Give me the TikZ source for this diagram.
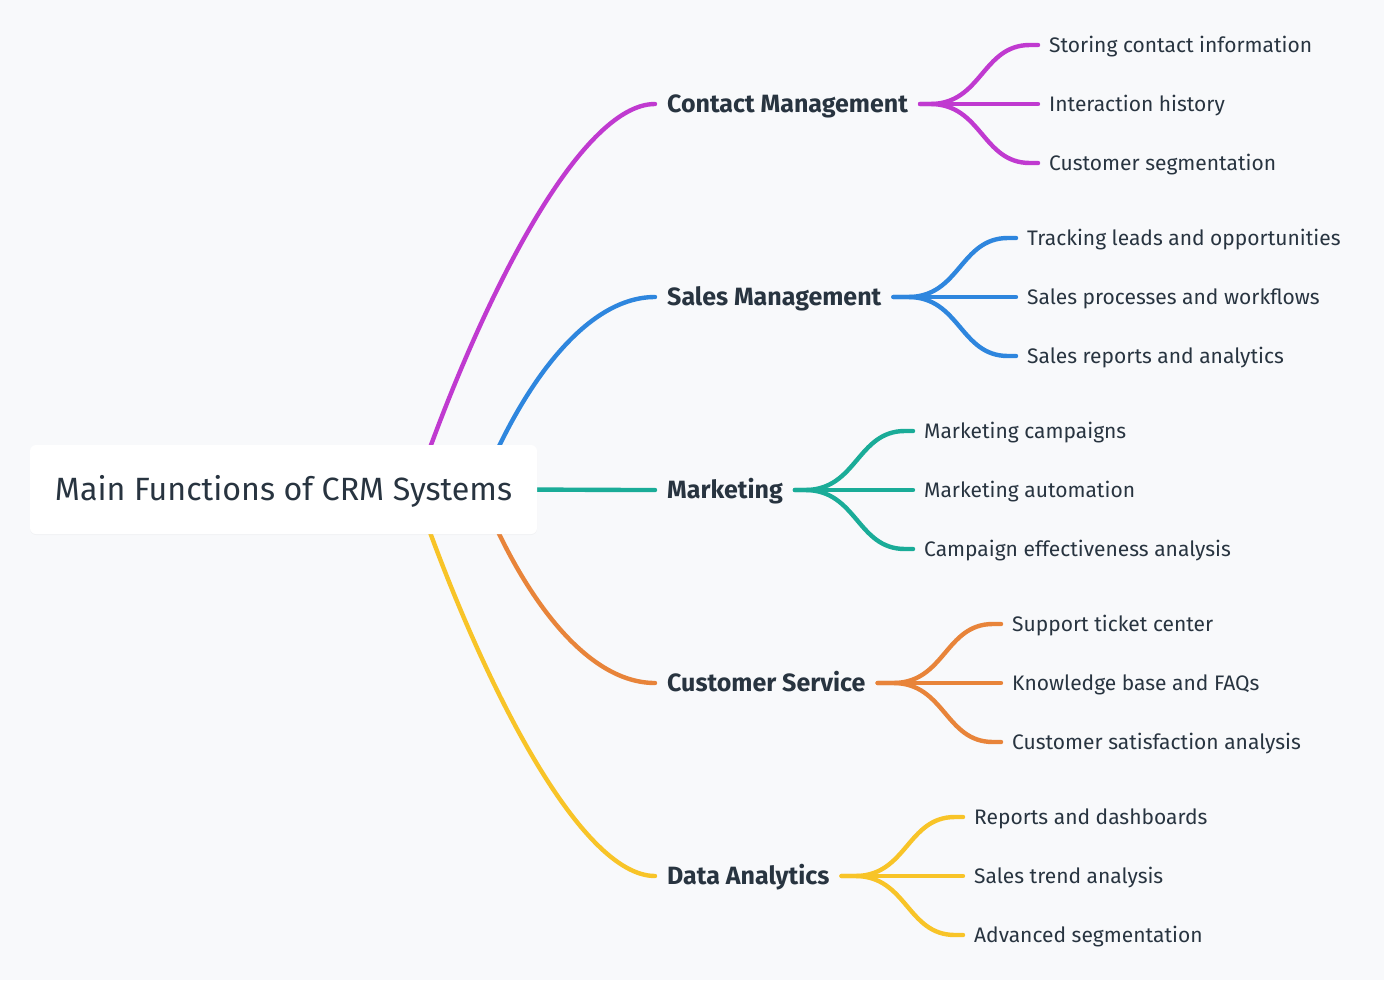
\documentclass[tikz,border=0pt]{standalone}
\usepackage{fontspec}
\setmainfont{Fira Sans}
\usetikzlibrary{calc,shadows}
\definecolor{bgc}{RGB}{248,249,251}
\definecolor{txt}{RGB}{40,52,64}
\definecolor{cma}{RGB}{192,58,208}
\definecolor{cbl}{RGB}{46,134,222}
\definecolor{cte}{RGB}{26,172,152}
\definecolor{cor}{RGB}{232,132,58}
\definecolor{cye}{RGB}{248,196,40}
\pgfdeclarelayer{bg}
\pgfsetlayers{bg,main}
\begin{document}
\begin{tikzpicture}[x=1pt,y=-1pt,
  rootbox/.style={fill=white,rounded corners=6pt,minimum width=507pt,minimum height=89pt,inner sep=0pt,
    text=txt,font=\fontsize{32.2}{38}\selectfont,text height=22.2pt,text depth=0pt,
    drop shadow={opacity=0.05,shadow xshift=0pt,shadow yshift=-1pt}},
  branch/.style={anchor=west,inner sep=0pt,text=txt,font=\fontsize{25}{30}\selectfont\bfseries,text height=17.2pt,text depth=0pt},
  leaf/.style={anchor=west,inner sep=0pt,text=txt,font=\fontsize{21}{25}\selectfont,text height=14.5pt,text depth=0pt},
  edge/.style={line width=4.4pt,line cap=round,draw=#1},
]
\useasboundingbox (0,0) rectangle (1384,980);
% nodes
\node[rootbox] (root) at (283.5,489.5) {Main Functions of CRM Systems};
\node[branch] (b1) at (667,104) {Contact Management};
\node[branch] (b2) at (667,297) {Sales Management};
\node[branch] (b3) at (667,490) {Marketing};
\node[branch] (b4) at (667,683) {Customer Service};
\node[branch] (b5) at (667,876) {Data Analytics};
\node[leaf] (l11) at (1049,45) {Storing contact information};
\node[leaf] (l12) at (1049,104) {Interaction history};
\node[leaf] (l13) at (1049,163) {Customer segmentation};
\node[leaf] (l21) at (1027,238) {Tracking leads and opportunities};
\node[leaf] (l22) at (1027,297) {Sales processes and workflows};
\node[leaf] (l23) at (1027,356) {Sales reports and analytics};
\node[leaf] (l31) at (924,431) {Marketing campaigns};
\node[leaf] (l32) at (924,490) {Marketing automation};
\node[leaf] (l33) at (924,549) {Campaign effectiveness analysis};
\node[leaf] (l41) at (1012,624) {Support ticket center};
\node[leaf] (l42) at (1012,683) {Knowledge base and FAQs};
\node[leaf] (l43) at (1012,742) {Customer satisfaction analysis};
\node[leaf] (l51) at (974,817) {Reports and dashboards};
\node[leaf] (l52) at (974,876) {Sales trend analysis};
\node[leaf] (l53) at (974,935) {Advanced segmentation};
\coordinate (r1) at (415,490);
\coordinate (r2) at (480,490);
\coordinate (r3) at (480,489.5);
\coordinate (r4) at (480,490);
\coordinate (r5) at (415,490);
\begin{pgfonlayer}{bg}
\fill[bgc] (0,0) rectangle (1384,980);
% root to branches
\draw[edge=cma] (r1) .. controls +(65,-190) and ([xshift=-87pt]b1.west) .. ([xshift=-12pt]b1.west);
\draw[edge=cbl] (r2) .. controls +(35,-90) and ([xshift=-87pt]b2.west) .. ([xshift=-12pt]b2.west);
\draw[edge=cte] (r3) .. controls +(80,0) and ([xshift=-70pt]b3.west) .. ([xshift=-12pt]b3.west);
\draw[edge=cor] (r4) .. controls +(35,90) and ([xshift=-87pt]b4.west) .. ([xshift=-12pt]b4.west);
\draw[edge=cye] (r5) .. controls +(65,190) and ([xshift=-87pt]b5.west) .. ([xshift=-12pt]b5.west);
% forks
\foreach \b/\c/\l in {b1/cma/l1,b2/cbl/l2,b3/cte/l3,b4/cor/l4,b5/cye/l5}{
  \foreach \i in {1,2,3}{
    \draw[edge=\c] ([xshift=12pt]\b.east) -- ([xshift=-119pt]\l\i.west |- \b.east)
      .. controls ([xshift=-67pt]\l\i.west |- \b.east) and ([xshift=-67pt]\l\i.west) .. ([xshift=-19pt]\l\i.west)
      -- ([xshift=-11pt]\l\i.west);
  }
}
\end{pgfonlayer}
\end{tikzpicture}
\end{document}
